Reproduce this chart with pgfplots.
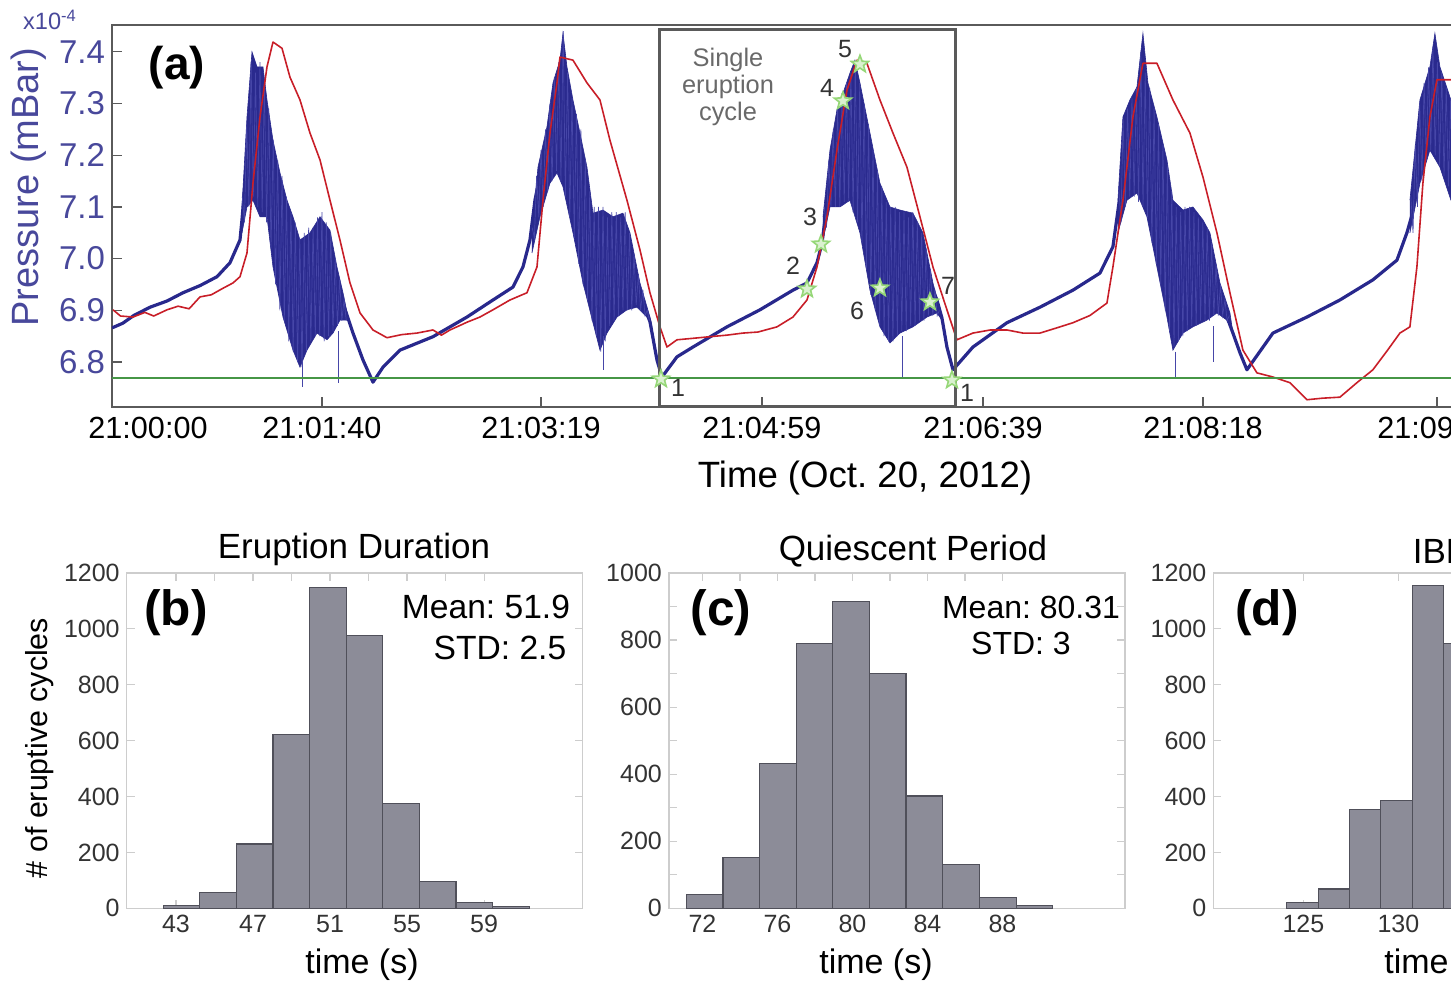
\documentclass[border=0pt]{standalone}
\usepackage{fontspec}
\setmainfont{Liberation Sans}
\usepackage{pgfplots}
\pgfplotsset{compat=1.18}
\frenchspacing

\definecolor{trace}{RGB}{40,40,140}
\definecolor{noise}{RGB}{42,42,142}
\definecolor{spike}{RGB}{70,70,168}
\definecolor{pblue}{RGB}{72,72,155}
\definecolor{tred}{RGB}{200,30,40}
\definecolor{tgreen}{RGB}{70,150,70}
\definecolor{sgreen}{RGB}{150,215,120}
\definecolor{boxgray}{RGB}{90,90,90}
\definecolor{txtgray}{RGB}{105,105,105}
\definecolor{barfill}{RGB}{140,140,152}
\definecolor{baredge}{RGB}{80,80,90}
\definecolor{histaxis}{RGB}{205,205,205}

\newcommand{\fs}[1]{\fontsize{#1}{#1}\selectfont}

% five-pointed star for the cycle stages
\pgfdeclareplotmark{fstar}{%
  \pgfpathmoveto{\pgfpointpolar{90}{\pgfplotmarksize}}%
  \pgfpathlineto{\pgfpointpolar{126}{0.42\pgfplotmarksize}}%
  \pgfpathlineto{\pgfpointpolar{162}{\pgfplotmarksize}}%
  \pgfpathlineto{\pgfpointpolar{198}{0.42\pgfplotmarksize}}%
  \pgfpathlineto{\pgfpointpolar{234}{\pgfplotmarksize}}%
  \pgfpathlineto{\pgfpointpolar{270}{0.42\pgfplotmarksize}}%
  \pgfpathlineto{\pgfpointpolar{306}{\pgfplotmarksize}}%
  \pgfpathlineto{\pgfpointpolar{342}{0.42\pgfplotmarksize}}%
  \pgfpathlineto{\pgfpointpolar{18}{\pgfplotmarksize}}%
  \pgfpathlineto{\pgfpointpolar{54}{0.42\pgfplotmarksize}}%
  \pgfpathclose
  \pgfusepathqfillstroke
}

\pgfplotsset{
  histax/.style={
    scale only axis, width=228pt, height=167.65pt, anchor=north west,
    ymin=0,
    axis line style={histaxis, line width=0.6pt},
    tick style={histaxis, line width=0.6pt},
    tick align=inside, major tick length=4pt, minor tick length=4pt,
    tick label style={font=\fs{12.5}, text=black!80},
    /pgf/number format/assume math mode=true,
    /pgf/number format/1000 sep={},
  },
  noisefill/.style={fill=noise, draw=noise, line width=0.3pt},
  jitter/.style={spike, line width=0.35pt},
}

\begin{document}
\begin{tikzpicture}

% ---------------- (a) pressure record ----------------
\begin{axis}[
    scale only axis, width=694pt, height=191pt,
    at={(56pt,-12.5pt)}, anchor=north west,
    xmin=5.15, xmax=632.3, ymin=6.713, ymax=7.452,
    axis line style={boxgray, line width=0.9pt},
    tick style={boxgray, line width=0.6pt},
    tick align=inside, tick pos=left, major tick length=5pt,
    xtick={100,199,298.8,398.7,498.1,603.8},
    xticklabels={21:01:40,21:03:19,21:04:59,21:06:39,21:08:18,21:09:58},
    ytick={6.8,6.9,7.0,7.1,7.2,7.3,7.4},
    /pgf/number format/assume math mode=true,
    y tick label style={text=pblue, font=\fs{16.5},
      /pgf/number format/fixed, /pgf/number format/fixed zerofill,
      /pgf/number format/precision=1},
    x tick label style={font=\fs{15.3}, yshift=-1.5pt},
]
% blue pressure trace
\addplot[trace, line width=1.6pt, line join=round] coordinates {
  (5.15,6.866) (10,6.875) (15,6.890) (22.32,6.906) (30,6.918) (37.23,6.934) (45,6.948)
  (52.59,6.965) (58.46,6.992) (62.98,7.036) (63.88,7.075) (66.14,7.191) (69.76,7.268)
  (72.92,7.249) (76.54,7.172) (81.05,7.055) (85.57,6.978) (90.09,6.920) (94.61,6.939)
  (99.13,6.959) (103.64,6.949) (108.16,6.930) (111.78,6.885) (114.04,6.856) (118.55,6.804)
  (123.07,6.761) (127.59,6.790) (135.27,6.823) (150.18,6.849) (165.54,6.887) (177.29,6.920)
  (186.32,6.945) (190.84,6.984) (194.00,7.036) (196.26,7.113) (200.78,7.210) (205.30,7.268)
  (208.91,7.288) (212.08,7.210) (216.59,7.113) (221.11,7.017) (225.63,6.959) (230.15,6.988)
  (234.67,6.988) (239.18,6.978) (243.70,6.930) (248.22,6.878) (251.38,6.804) (253.64,6.771)
  (260.42,6.810) (267.65,6.829) (283.01,6.868) (297.92,6.901) (312.83,6.939) (319.17,6.953)
  (323.69,6.992) (325.95,7.030) (329.55,7.152) (334.06,7.210) (338.58,7.230) (343.10,7.191)
  (347.62,7.094) (352.13,7.007) (356.65,6.968) (361.17,6.974) (367.04,6.978) (373.37,6.968)
  (377.89,6.920) (380.15,6.885) (382.40,6.829) (385.12,6.785) (394.15,6.829) (409.51,6.876)
  (424.42,6.906) (439.33,6.939) (451.53,6.972) (457.40,7.023) (462.83,7.191) (467.35,7.230)
  (471.86,7.210) (477.28,7.133) (481.80,7.036) (484.51,6.968) (489.03,6.978) (493.55,6.984)
  (499.88,6.978) (505.75,6.924) (511.62,6.856) (514.79,6.818) (517.95,6.785) (529.69,6.856)
  (545.05,6.887) (559.96,6.920) (574.87,6.959) (585.72,6.997) (590.23,7.050) (592.50,7.084)
  (596.11,7.229) (600.62,7.288) (605.14,7.278) (610.11,7.210) (618.70,7.172)
};

% eruption noise bands (upper envelope, then lower envelope back)
\addplot[noisefill] coordinates {
  (63.88,7.100) (66.14,7.274) (68.40,7.400) (70.66,7.371) (73.37,7.371) (75.18,7.307)
  (77.89,7.229) (81.05,7.166) (84.22,7.113) (86.93,7.081) (90.09,7.036) (94.61,7.050)
  (99.13,7.081) (103.64,7.055) (106.80,6.984) (109.52,6.934) (111.78,6.887)
  (111.78,6.881) (108.16,6.881) (105.00,6.856) (102.29,6.843) (97.77,6.856) (93.25,6.823)
  (90.09,6.790) (86.93,6.823) (82.41,6.887) (77.89,6.984) (75.18,7.081) (72.02,7.081)
  (68.85,7.113) (66.14,7.100) (63.88,7.050)
};
\addplot[noisefill] coordinates {
  (194.91,7.050) (197.62,7.177) (201.68,7.255) (204.40,7.340) (207.56,7.384) (208.91,7.436)
  (210.72,7.371) (213.43,7.307) (216.59,7.243) (219.76,7.177) (222.47,7.088) (226.99,7.094)
  (231.51,7.081) (236.02,7.088) (239.18,7.050) (243.70,6.953) (248.22,6.887)
  (249.12,6.868) (246.86,6.887) (242.34,6.906) (237.83,6.901) (233.31,6.887) (228.79,6.856)
  (225.63,6.823) (222.47,6.876) (217.95,6.953) (213.43,7.050) (208.91,7.139) (206.20,7.166)
  (203.04,7.146) (198.52,7.081) (194.91,7.011)
};
\addplot[noisefill] coordinates {
  (326.40,7.081) (329.55,7.210) (332.71,7.288) (335.42,7.320) (338.58,7.359) (340.84,7.384)
  (343.10,7.340) (347.62,7.243) (352.13,7.146) (356.65,7.100) (361.17,7.094) (367.04,7.088)
  (371.56,7.050) (376.08,6.953) (379.24,6.901)
  (380.15,6.881) (377.89,6.895) (373.37,6.887) (367.04,6.868) (361.17,6.856) (356.65,6.837)
  (352.13,6.868) (347.62,6.939) (343.10,7.050) (338.58,7.113) (334.06,7.100) (329.55,7.100)
  (326.40,7.036)
};
\addplot[noisefill] coordinates {
  (459.66,7.113) (461.92,7.274) (465.08,7.307) (468.25,7.332) (470.96,7.436) (473.21,7.340)
  (477.28,7.274) (481.80,7.191) (484.51,7.113) (489.03,7.094) (493.55,7.100) (498.07,7.075)
  (501.23,7.050) (505.75,6.953) (510.27,6.895)
  (511.62,6.856) (508.91,6.881) (504.39,6.895) (499.88,6.881) (493.55,6.868) (489.03,6.856)
  (484.51,6.823) (481.80,6.887) (477.28,6.984) (472.77,7.081) (468.25,7.127) (463.73,7.113)
  (459.66,7.050)
};
\addplot[noisefill] coordinates {
  (591.59,7.113) (596.11,7.307) (600.62,7.371) (602.88,7.436) (605.14,7.371) (610.11,7.307)
  (618.70,7.268) (618.70,7.075) (610.11,7.113) (605.14,7.177) (600.62,7.210) (596.11,7.146)
  (591.59,7.050)
};

% oscillation read across each band
\addplot[jitter] coordinates {
  (64,7.12) (65,7.07) (66,7.26) (67,7.10) (68,7.38) (69,7.12) (70,7.36) (71,7.10) (72,7.38)
  (73,7.09) (74,7.34) (75,7.07) (76,7.29) (77,7.02) (78,7.23) (79,6.95) (80,7.19) (81,6.90)
  (82,7.16) (83,6.88) (84,7.12) (85,6.84) (86,7.09) (87,6.82) (88,7.07) (89,6.80) (90,7.04)
  (91,6.79) (92,7.05) (93,6.82) (94,7.06) (95,6.84) (96,7.06) (97,6.85) (98,7.08) (99,6.85)
  (100,7.09) (101,6.84) (102,7.07) (103,6.85) (104,7.05) (105,6.86) (106,7.00) (107,6.87)
  (108,6.96) (109,6.88) (110,6.92) (111,6.88)
};
\addplot[jitter] coordinates {
  (195,7.06) (196,7.04) (197,7.16) (198,7.08) (199,7.21) (200,7.10) (201,7.25) (202,7.13)
  (203,7.30) (204,7.15) (205,7.35) (206,7.17) (207,7.38) (208,7.15) (209,7.44) (210,7.12)
  (211,7.36) (212,7.08) (213,7.31) (214,7.04) (215,7.28) (216,6.99) (217,7.25) (218,6.95)
  (219,7.19) (220,6.92) (221,7.13) (222,6.88) (223,7.10) (224,6.85) (225,7.10) (226,6.82)
  (227,7.10) (228,6.84) (229,7.08) (230,6.87) (231,7.09) (232,6.88) (233,7.09) (234,6.89)
  (235,7.08) (236,6.90) (237,7.09) (238,6.90) (239,7.05) (240,6.90) (241,7.01) (242,6.91)
  (243,6.97) (244,6.90) (245,6.94) (246,6.89) (247,6.90) (248,6.88)
};
\addplot[jitter] coordinates {
  (327,7.10) (328,7.06) (329,7.19) (330,7.10) (331,7.25) (332,7.10) (333,7.29) (334,7.10)
  (335,7.32) (336,7.11) (337,7.34) (338,7.11) (339,7.36) (340,7.09) (341,7.38) (342,7.07)
  (343,7.34) (344,7.03) (345,7.30) (346,6.98) (347,7.26) (348,6.93) (349,7.21) (350,6.90)
  (351,7.17) (352,6.87) (353,7.14) (354,6.85) (355,7.11) (356,6.84) (357,7.10) (358,6.84)
  (359,7.10) (360,6.85) (361,7.09) (362,6.86) (363,7.09) (364,6.86) (365,7.08) (366,6.87)
  (367,7.09) (368,6.87) (369,7.07) (370,6.88) (371,7.05) (372,6.88) (373,7.02) (374,6.89)
  (375,6.98) (376,6.89) (377,6.94) (378,6.89) (379,6.90)
};
\addplot[jitter] coordinates {
  (460,7.14) (461,7.07) (462,7.27) (463,7.10) (464,7.29) (465,7.12) (466,7.31) (467,7.12)
  (468,7.33) (469,7.11) (470,7.40) (471,7.10) (472,7.36) (473,7.08) (474,7.33) (475,7.03)
  (476,7.29) (477,6.99) (478,7.26) (479,6.95) (480,7.22) (481,6.90) (482,7.18) (483,6.86)
  (484,7.13) (485,6.83) (486,7.10) (487,6.84) (488,7.09) (489,6.85) (490,7.10) (491,6.86)
  (492,7.10) (493,6.87) (494,7.09) (495,6.87) (496,7.08) (497,6.88) (498,7.07) (499,6.88)
  (500,7.06) (501,6.88) (502,7.03) (503,6.89) (504,6.99) (505,6.89) (506,6.95) (507,6.89)
  (508,6.92) (509,6.88) (510,6.89)
};
\addplot[jitter] coordinates {
  (592,7.12) (593,7.05) (594,7.22) (595,7.10) (596,7.30) (597,7.15) (598,7.34) (599,7.19)
  (600,7.37) (601,7.21) (602,7.41) (603,7.20) (604,7.38) (605,7.18) (606,7.36) (607,7.16)
  (608,7.33) (609,7.14) (610,7.31) (611,7.12) (612,7.30) (613,7.10)
};

% single spikes reaching down
\addplot[spike, line width=0.4pt] coordinates {(91.0,6.800) (91.0,6.752)};
\addplot[spike, line width=0.4pt] coordinates {(107.3,6.860) (107.3,6.760)};
\addplot[spike, line width=0.4pt] coordinates {(227.0,6.850) (227.0,6.785)};
\addplot[spike, line width=0.4pt] coordinates {(362.1,6.850) (362.1,6.771)};
\addplot[spike, line width=0.4pt] coordinates {(485.4,6.820) (485.4,6.769)};
\addplot[spike, line width=0.4pt] coordinates {(502.6,6.870) (502.6,6.800)};

% red trace
\addplot[tred, line width=0.8pt, line join=round] coordinates {
  (5.60,6.901) (9,6.889) (14.64,6.887) (20,6.896) (24,6.889) (30,6.901) (35,6.908) (40,6.903)
  (44.91,6.926) (50,6.930) (55,6.942) (59.82,6.953) (62.98,6.965) (66.14,7.011) (68.85,7.146)
  (72.02,7.274) (75.18,7.371) (77.89,7.419) (81.96,7.407) (85.57,7.351) (90.09,7.307)
  (94.61,7.243) (99.13,7.191) (103.64,7.113) (108.16,7.036) (112.68,6.953) (117.20,6.895)
  (123.07,6.862) (129.40,6.847) (136,6.853) (142.95,6.856) (150.18,6.862) (154,6.852)
  (157.86,6.862) (162,6.870) (165.54,6.877) (171.40,6.887) (177.29,6.901) (184.97,6.920)
  (192.65,6.934) (197.17,6.984) (199.88,7.113) (203.04,7.243) (206.20,7.340) (207.56,7.390)
  (213.43,7.384) (219.76,7.340) (225.63,7.307) (230.15,7.229) (237.83,7.113) (243.70,7.017)
  (248.22,6.934) (252.74,6.868) (255.90,6.829) (260.42,6.843) (268,6.846) (275.33,6.849)
  (283,6.852) (290.24,6.856) (297,6.858) (305.60,6.868) (312.83,6.887) (319.17,6.920)
  (323.69,6.984) (328.19,7.081) (332.71,7.210) (337.23,7.326) (341.74,7.384) (346.25,7.378)
  (352.13,7.307) (358.01,7.243) (364.33,7.177) (370.21,7.081) (376.08,6.984) (382.40,6.901)
  (386.92,6.843) (394.15,6.856) (402,6.862) (409.51,6.862) (416.74,6.856) (424.42,6.856)
  (432,6.866) (439.33,6.876) (447,6.890) (454.69,6.914) (457.40,6.984) (461.92,7.113)
  (466.44,7.274) (470.96,7.378) (477.28,7.378) (484.51,7.307) (492.19,7.243) (498.07,7.158)
  (504.39,7.050) (510.27,6.934) (516.14,6.823) (522.47,6.779) (529.69,6.771) (537.37,6.760)
  (545.05,6.727) (552,6.730) (559.96,6.732) (567.64,6.760) (574.87,6.785) (581,6.820)
  (587.07,6.856) (591.59,6.868) (594.75,6.984) (597.46,7.146) (600.62,7.274) (603.79,7.346)
  (610.11,7.346) (618.70,7.336)
};

% threshold line
\addplot[tgreen, line width=0.8pt] coordinates {(0,6.769) (700,6.769)};

% single eruption cycle box
\draw[boxgray, line width=1.5pt] (axis cs:252.74,6.713) rectangle (axis cs:386.47,7.444);

% stages of the cycle
\addplot[only marks, mark=fstar, mark size=4.5pt,
  mark options={fill=white!65!sgreen, draw=sgreen, line width=0.8pt}] coordinates {
  (253.19,6.767) (319.17,6.941) (325.49,7.028) (335.42,7.305) (343.10,7.376)
  (352.13,6.943) (374.72,6.916) (384.67,6.765)
};
\end{axis}

% ---------------- (b) eruption duration ----------------
\begin{axis}[histax, at={(63.35pt,-286.5pt)},
    xmin=40.44, xmax=64.12, ymax=1200,
    xtick={43,47,51,55,59}, minor x tick num=1,
    ytick={0,200,...,1200}]
\addplot[ybar interval, fill=barfill, draw=baredge, line width=0.6pt] coordinates {
  (42.34,10) (44.24,57) (46.14,230) (48.04,623) (49.94,1149) (51.84,975)
  (53.74,374) (55.64,95) (57.54,20) (59.44,6) (61.34,0)
};
\end{axis}

% ---------------- (c) quiescent period ----------------
\begin{axis}[histax, at={(334.45pt,-286.5pt)},
    xmin=70.21, xmax=94.53, ymax=1000,
    xtick={72,76,80,84,88}, minor x tick num=1,
    ytick={0,200,...,1000}, minor y tick num=1]
\addplot[ybar interval, fill=barfill, draw=baredge, line width=0.6pt] coordinates {
  (71.13,40) (73.09,152) (75.04,431) (77.00,789) (78.95,916) (80.91,700)
  (82.86,335) (84.82,131) (86.77,32) (88.73,8) (90.68,0)
};
\end{axis}

% ---------------- (d) IBE ----------------
\begin{axis}[histax, at={(606.65pt,-286.5pt)},
    xmin=120.26, xmax=144.26, ymax=1200,
    xtick={125,130,135,140},
    ytick={0,200,...,1200}]
\addplot[ybar interval, fill=barfill, draw=baredge, line width=0.6pt] coordinates {
  (124.13,21) (125.78,69) (127.43,355) (129.08,386) (130.73,1155) (132.38,949) (134.03,0)
};
\end{axis}

% ---------------- texts, in pixel units of the figure ----------------
\begin{scope}[x=0.5pt,y=-0.5pt]
  \node[text=pblue, font=\fs{11.8}] at (50,20) {x10\textsuperscript{-4}};
  \node[rotate=90, text=pblue, font=\fs{19}] at (29,187) {Pressure (mBar)};
  \node[font=\fs{15.3}] at (148,428) {21:00:00};
  \node[font=\fs{18.3}] at (865,478) {Time (Oct. 20, 2012)};
  \node[font=\bfseries\fs{23}] at (177,68) {(a)};
  \node[align=center, text=txtgray, font=\fs{12.7}, inner sep=0pt] at (728,87)
    {Single\\[1pt]eruption\\[1pt]cycle};
  \begin{scope}[every node/.style={font=\fs{12.5}, text=black!80}]
    \node at (678,388) {1};
    \node at (793,266) {2};
    \node at (810,217) {3};
    \node at (827,88) {4};
    \node at (845,49) {5};
    \node at (857,311) {6};
    \node at (948,286) {7};
    \node at (967,393) {1};
  \end{scope}

  \node[font=\fs{17.5}] at (354,549) {Eruption Duration};
  \node[font=\fs{17.5}] at (913,551) {Quiescent Period};
  \node[font=\fs{17.5}] at (1441,551) {IBE};
  \node[font=\fs{17}] at (362,965) {time (s)};
  \node[font=\fs{17}] at (876,965) {time (s)};
  \node[font=\fs{17}] at (1441,965) {time (s)};
  \node[rotate=90, font=\fs{15.2}] at (40,748) {\# of eruptive cycles};
  \node[font=\bfseries\fs{24.8}] at (176,613) {(b)};
  \node[font=\bfseries\fs{24.8}] at (721,613) {(c)};
  \node[font=\bfseries\fs{24.8}] at (1267,613) {(d)};
  \node[font=\fs{16.8}] at (486,607) {Mean: 51.9};
  \node[font=\fs{16.8}] at (500,648) {STD: 2.5};
  \node[font=\fs{16}] at (1031,607) {Mean: 80.31};
  \node[font=\fs{16}] at (1021,643) {STD: 3};
\end{scope}

\pgfresetboundingbox
\path[use as bounding box] (0,0) rectangle (725.5pt,-491.5pt);
\end{tikzpicture}
\end{document}
